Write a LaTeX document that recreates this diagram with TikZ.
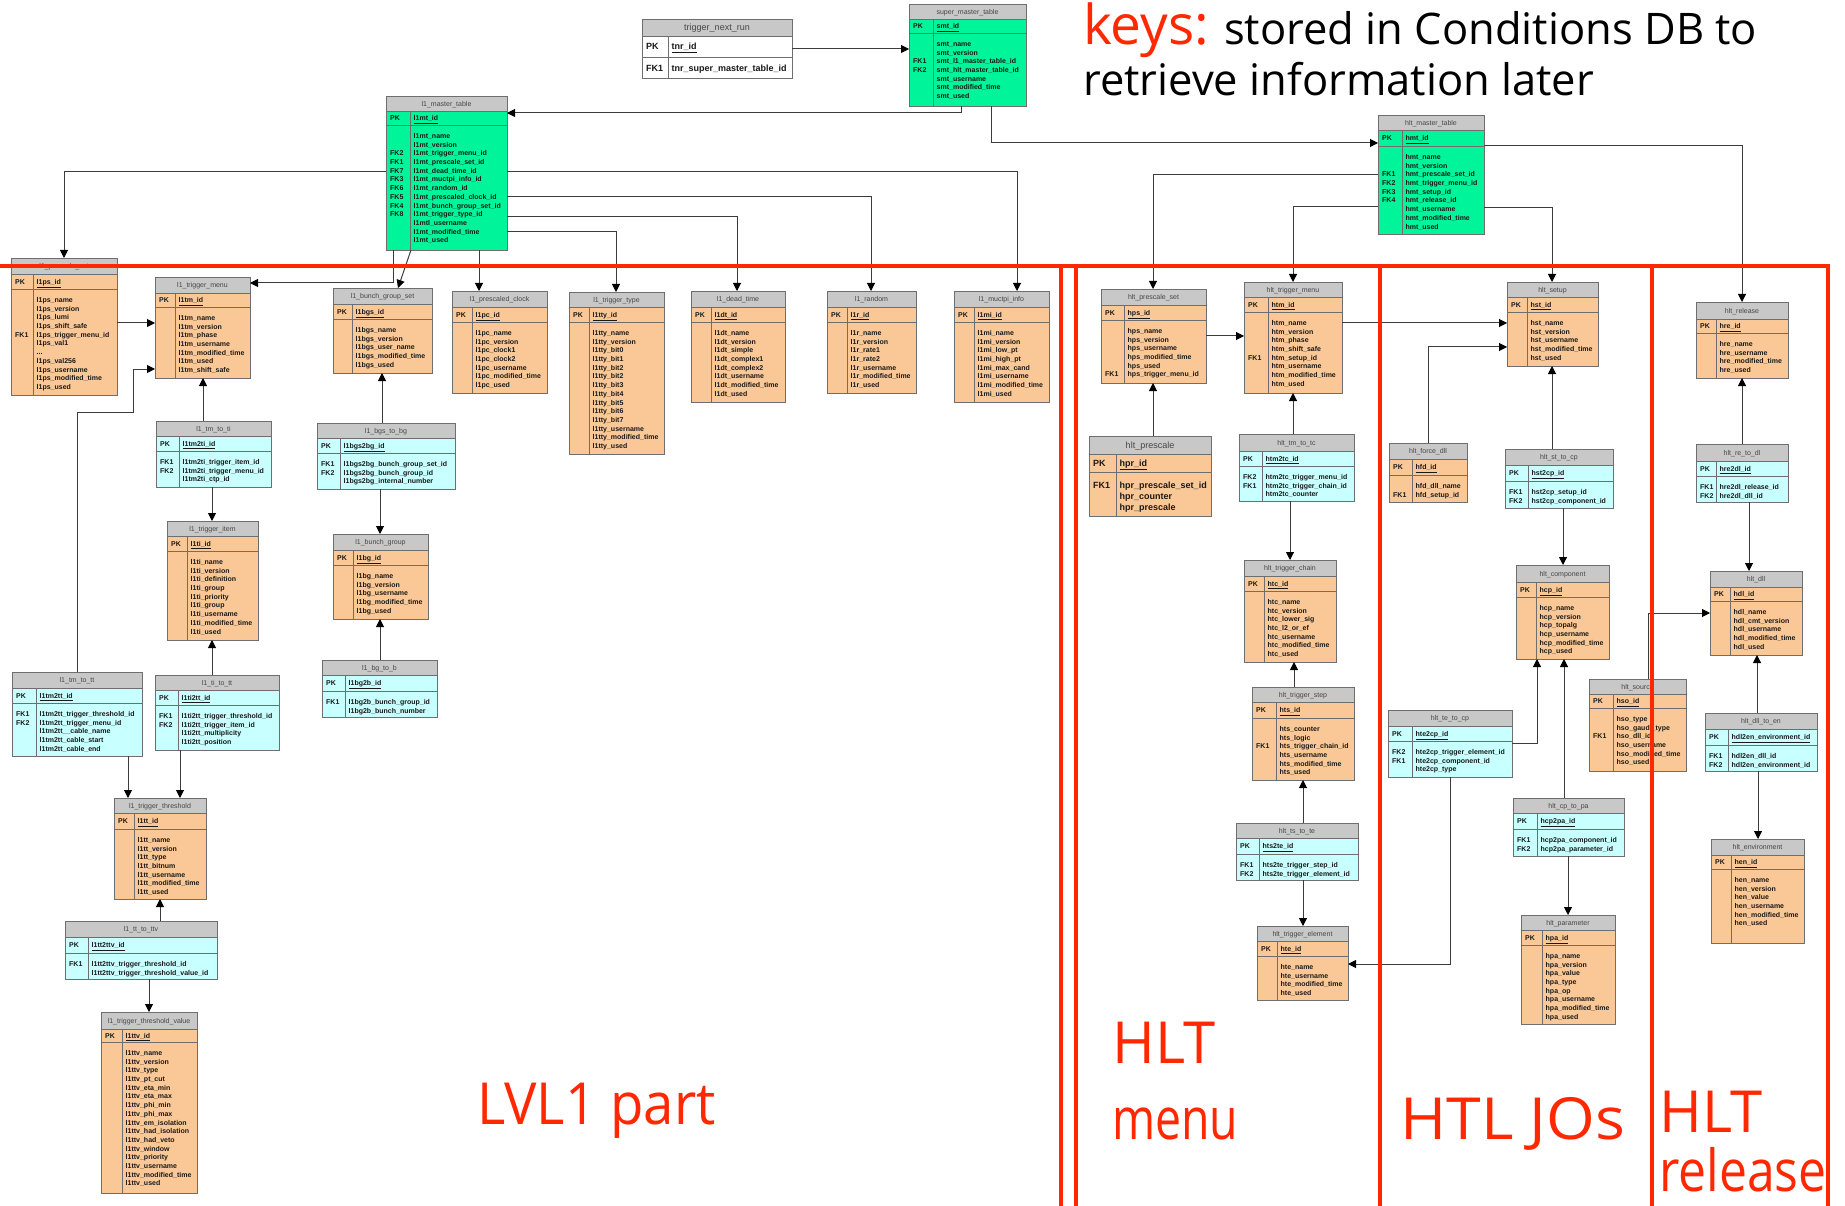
\documentclass[tikz,border=0pt]{standalone}
\usepackage{fontspec}
\setmainfont{Liberation Sans}
\newfontfamily\handfont{Open Sans}
\usetikzlibrary{arrows.meta,fit}

\definecolor{tabgreen}{RGB}{0,245,155}
\definecolor{taborange}{RGB}{250,200,150}
\definecolor{tabcyan}{RGB}{200,255,255}
\definecolor{hdrgray}{RGB}{200,200,200}
\definecolor{bordergray}{RGB}{110,110,110}
\definecolor{inktext}{RGB}{25,25,25}
\definecolor{titletext}{RGB}{70,70,70}
\definecolor{linkgray}{RGB}{60,60,60}
\definecolor{zonered}{RGB}{255,40,0}

% text metrics of the table cells (changed for the two large-print tables)
\def\tabsize{7}\def\tabskip{8.7}\def\titlesize{7}\def\tabgap{7.2}

\tikzset{
  tabframe/.style={draw=bordergray, line width=0.8pt, inner sep=0pt, outer sep=0pt},
  tabline/.style={draw=bordergray, line width=0.7pt},
  tabtext/.style={inner sep=0pt, text=inktext, font=\fontsize{\tabsize}{\tabskip}\selectfont\bfseries},
  tabtitle/.style={inner sep=0pt, text=titletext, font=\fontsize{\titlesize}{\titlesize}\selectfont},
  fk/.style={draw=linkgray, line width=1pt, -{Triangle[length=8pt,width=8pt,color=black]}},
  zone/.style={draw=zonered, line width=4pt},
  bigred/.style={inner sep=0pt, anchor=base west, text=zonered, font=\handfont\fontsize{58}{58}\selectfont},
  note/.style={inner sep=0pt, anchor=base west, text=black, font=\handfont\fontsize{43.5}{43.5}\selectfont},
}

% geometry: left,top,right,bottom,header bottom,key row bottom,column divider
\def\dbparse#1,#2,#3,#4,#5,#6,#7\relax{%
  \def\tL{#1}\def\tT{#2}\def\tR{#3}\def\tB{#4}\def\tH{#5}\def\tP{#6}\def\tD{#7}}

% #1 name, #2 body colour, #3 geometry, #4 title, #5 primary key,
% #6 key column, #7 field column
\newcommand\dbtable[7]{%
  \dbparse#3\relax
  \fill[#2] (\tL,\tT) rectangle (\tR,\tB);
  \fill[hdrgray] (\tL,\tT) rectangle (\tR,\tH);
  \draw[tabline] (\tL,\tH) -- (\tR,\tH) (\tL,\tP) -- (\tR,\tP) (\tD,\tH) -- (\tD,\tB);
  \node[tabframe, fit={(\tL,\tT) (\tR,\tB)}] (#1) {};
  \node[tabtitle, anchor=base] (#1-title) at ({(\tL+\tR)/2},{(\tT+\tH)/2+\titlesize*0.36}) {#4};
  \node[tabtext, anchor=base west] (#1-pklabel) at ({\tL+4},{(\tH+\tP)/2+\tabsize*0.36}) {PK};
  \node[tabtext, anchor=base west] (#1-pk) at ({\tD+3.5},{(\tH+\tP)/2+\tabsize*0.36}) {\underline{#5}};
  \node[tabtext, anchor=north west, align=left] (#1-keys) at ({\tL+4},{\tP+\tabgap}) {\strut#6};
  \node[tabtext, anchor=north west, align=left] (#1-fields) at ({\tD+3.5},{\tP+\tabgap}) {\strut#7};
}

\begin{document}
\catcode`\_=12
\begin{tikzpicture}[x=1pt,y=-1pt]
\fill[white] (0,0) rectangle (1845,1206);
\useasboundingbox (0,0) rectangle (1845,1206);

% ---------------- top level ----------------
\def\tabsize{9}\def\tabskip{11}\def\titlesize{9}\def\tabgap{6.5}
\dbtable{tnr}{white}{642,19,792,78,36,57,668}{trigger_next_run}{tnr_id}
  {FK1}{tnr_super_master_table_id}
\def\tabsize{7}\def\tabskip{8.7}\def\titlesize{7}\def\tabgap{7.2}

\dbtable{smt}{tabgreen}{909,4,1026,106,19,33,933}{super_master_table}{smt_id}
  {\strut\\\strut\\FK1\\FK2}
  {smt_name\\smt_version\\smt_l1_master_table_id\\smt_hlt_master_table_id\\smt_username\\smt_modified_time\\smt_used}

% ---------------- LVL1 ----------------
\dbtable{l1mt}{tabgreen}{386,96,507,250,111,125,410}{l1_master_table}{l1mt_id}
  {\strut\\\strut\\FK2\\FK1\\FK7\\FK3\\FK6\\FK5\\FK4\\FK8}
  {l1mt_name\\l1mt_version\\l1mt_trigger_menu_id\\l1mt_prescale_set_id\\l1mt_dead_time_id\\l1mt_muctpi_info_id\\l1mt_random_id\\l1mt_prescaled_clock_id\\l1mt_bunch_group_set_id\\l1mt_trigger_type_id\\l1mtl_username\\l1mt_modified_time\\l1mt_used}

\dbtable{l1ps}{taborange}{11,258,117,395,274,289,33}{l1_prescale_set}{l1ps_id}
  {\strut\\\strut\\\strut\\\strut\\FK1}
  {l1ps_name\\l1ps_version\\l1ps_lumi\\l1ps_shift_safe\\l1ps_trigger_menu_id\\l1ps_val1\\...\\l1ps_val256\\l1ps_username\\l1ps_modified_time\\l1ps_used}

\dbtable{l1tm}{taborange}{155,277,250,378,293,307,175}{l1_trigger_menu}{l1tm_id}
  {}
  {l1tm_name\\l1tm_version\\l1tm_phase\\l1tm_username\\l1tm_modified_time\\l1tm_used\\l1tm_shift_safe}

\dbtable{l1tm2ti}{tabcyan}{156,421,271,487,436,451,179}{l1_tm_to_ti}{l1tm2ti_id}
  {FK1\\FK2}
  {l1tm2ti_trigger_item_id\\l1tm2ti_trigger_menu_id\\l1tm2ti_ctp_id}

\dbtable{l1ti}{taborange}{167,521,258,640,536,551,187}{l1_trigger_item}{l1ti_id}
  {}
  {l1ti_name\\l1ti_version\\l1ti_definition\\l1ti_group\\l1ti_priority\\l1ti_group\\l1ti_username\\l1ti_modified_time\\l1ti_used}

\dbtable{l1bgs}{taborange}{333,288,432,373,304,319,352}{l1_bunch_group_set}{l1bgs_id}
  {}
  {l1bgs_name\\l1bgs_version\\l1bgs_user_name\\l1bgs_modified_time\\l1bgs_used}

\dbtable{l1bgs2bg}{tabcyan}{317,423,455,489,438,453,340}{l1_bgs_to_bg}{l1bgs2bg_id}
  {FK1\\FK2}
  {l1bgs2bg_bunch_group_set_id\\l1bgs2bg_bunch_group_id\\l1bgs2bg_internal_number}

\dbtable{l1bg}{taborange}{333,534,428,619,550,565,353}{l1_bunch_group}{l1bg_id}
  {}
  {l1bg_name\\l1bg_version\\l1bg_username\\l1bg_modified_time\\l1bg_used}

\dbtable{l1bg2b}{tabcyan}{322,660,437,717,675,691,345}{l1_bg_to_b}{l1bg2b_id}
  {FK1}
  {l1bg2b_bunch_group_id\\l1bg2b_bunch_number}

\dbtable{l1tm2tt}{tabcyan}{12,672,142,756,688,703,36}{l1_tm_to_tt}{l1tm2tt_id}
  {FK1\\FK2}
  {l1tm2tt_trigger_threshold_id\\l1tm2tt_trigger_menu_id\\l1tm2tt__cable_name\\l1tm2tt_cable_start\\l1tm2tt_cable_end}

\dbtable{l1ti2tt}{tabcyan}{155,675,279,750,690,705,178}{l1_ti_to_tt}{l1ti2tt_id}
  {FK1\\FK2}
  {l1ti2tt_trigger_threshold_id\\l1ti2tt_trigger_item_id\\l1ti2tt_multiplicity\\l1ti2tt_position}

\dbtable{l1tt}{taborange}{114,798,206,899,813,829,134}{l1_trigger_threshold}{l1tt_id}
  {}
  {l1tt_name\\l1tt_version\\l1tt_type\\l1tt_bitnum\\l1tt_username\\l1tt_modified_time\\l1tt_used}

\dbtable{l1tt2ttv}{tabcyan}{65,921,217,979,937,953,88}{l1_tt_to_ttv}{l1tt2ttv_id}
  {FK1}
  {l1tt2ttv_trigger_threshold_id\\l1tt2ttv_trigger_threshold_value_id}

\dbtable{l1ttv}{taborange}{101,1012,197,1193,1029,1042,122}{l1_trigger_threshold_value}{l1ttv_id}
  {}
  {l1ttv_name\\l1ttv_version\\l1ttv_type\\l1ttv_pt_cut\\l1ttv_eta_min\\l1ttv_eta_max\\l1ttv_phi_min\\l1ttv_phi_max\\l1ttv_em_isolation\\l1ttv_had_isolation\\l1ttv_had_veto\\l1ttv_window\\l1ttv_priority\\l1ttv_username\\l1ttv_modified_time\\l1ttv_used}

\dbtable{l1pc}{taborange}{452,291,547,393,307,322,472}{l1_prescaled_clock}{l1pc_id}
  {}
  {l1pc_name\\l1pc_version\\l1pc_clock1\\l1pc_clock2\\l1pc_username\\l1pc_modified_time\\l1pc_used}

\dbtable{l1tty}{taborange}{569,292,664,454,307,322,589}{l1_trigger_type}{l1tty_id}
  {}
  {l1tty_name\\l1tty_version\\l1tty_bit0\\l1tty_bit1\\l1tty_bit2\\l1tty_bit2\\l1tty_bit3\\l1tty_bit4\\l1tty_bit5\\l1tty_bit6\\l1tty_bit7\\l1tty_username\\l1tty_modified_time\\l1tty_used}

\dbtable{l1dt}{taborange}{691,291,785,402,307,322,711}{l1_dead_time}{l1dt_id}
  {}
  {l1dt_name\\l1dt_version\\l1dt_simple\\l1dt_complex1\\l1dt_complex2\\l1dt_username\\l1dt_modified_time\\l1dt_used}

\dbtable{l1r}{taborange}{827,291,916,393,307,322,847}{l1_random}{l1r_id}
  {}
  {l1r_name\\l1r_version\\l1r_rate1\\l1r_rate2\\l1r_username\\l1r_modified_time\\l1r_used}

\dbtable{l1mi}{taborange}{954,291,1049,402,307,322,974}{l1_muctpi_info}{l1mi_id}
  {}
  {l1mi_name\\l1mi_version\\l1mi_low_pt\\l1mi_high_pt\\l1mi_max_cand\\l1mi_username\\l1mi_modified_time\\l1mi_used}

% ---------------- HLT ----------------
\dbtable{hmt}{tabgreen}{1378,115,1484,234,130,146,1402}{hlt_master_table}{hmt_id}
  {\strut\\\strut\\FK1\\FK2\\FK3\\FK4}
  {hmt_name\\hmt_version\\hmt_prescale_set_id\\hmt_trigger_menu_id\\hmt_setup_id\\hmt_release_id\\hmt_username\\hmt_modified_time\\hmt_used}

\dbtable{hps}{taborange}{1101,289,1206,383,305,320,1124}{hlt_prescale_set}{hps_id}
  {\strut\\\strut\\\strut\\\strut\\\strut\\FK1}
  {hps_name\\hps_version\\hps_username\\hps_modified_time\\hps_used\\hps_trigger_menu_id}

\dbtable{htm}{taborange}{1244,282,1342,393,297,312,1268}{hlt_trigger_menu}{htm_id}
  {\strut\\\strut\\\strut\\\strut\\FK1}
  {htm_name\\htm_version\\htm_phase\\htm_shift_safe\\htm_setup_id\\htm_username\\htm_modified_time\\htm_used}

\def\tabsize{9}\def\tabskip{11}\def\titlesize{9}\def\tabgap{8.6}
\dbtable{hpr}{taborange}{1089,436,1211,516,454,472,1116}{hlt_prescale}{hpr_id}
  {FK1}
  {hpr_prescale_set_id\\hpr_counter\\hpr_prescale}
\def\tabsize{7}\def\tabskip{8.7}\def\titlesize{7}\def\tabgap{7.2}

\dbtable{htm2tc}{tabcyan}{1239,434,1354,501,451,466,1262}{hlt_tm_to_tc}{htm2tc_id}
  {FK2\\FK1}
  {htm2tc_trigger_menu_id\\htm2tc_trigger_chain_id\\htm2tc_counter}

\dbtable{htc}{taborange}{1244,560,1336,662,576,591,1264}{hlt_trigger_chain}{htc_id}
  {}
  {htc_name\\htc_version\\htc_lower_sig\\htc_l2_or_ef\\htc_username\\htc_modified_time\\htc_used}

\dbtable{hts}{taborange}{1252,687,1354,780,702,718,1276}{hlt_trigger_step}{hts_id}
  {\strut\\\strut\\FK1}
  {hts_counter\\hts_logic\\hts_trigger_chain_id\\hts_username\\hts_modified_time\\hts_used}

\dbtable{hts2te}{tabcyan}{1236,823,1358,880,838,854,1259}{hlt_ts_to_te}{hts2te_id}
  {FK1\\FK2}
  {hts2te_trigger_step_id\\hts2te_trigger_element_id}

\dbtable{hte}{taborange}{1257,926,1348,1000,941,956,1277}{hlt_trigger_element}{hte_id}
  {}
  {hte_name\\hte_username\\hte_modified_time\\hte_used}

\dbtable{hst}{taborange}{1507,282,1598,366,297,312,1527}{hlt_setup}{hst_id}
  {}
  {hst_name\\hst_version\\hst_username\\hst_modified_time\\hst_used}

\dbtable{hfd}{taborange}{1389,443,1467,502,459,475,1412}{hlt_force_dll}{hfd_id}
  {\strut\\FK1}
  {hfd_dll_name\\hfd_setup_id}

\dbtable{hst2cp}{tabcyan}{1505,449,1613,508,465,481,1528}{hlt_st_to_cp}{hst2cp_id}
  {FK1\\FK2}
  {hst2cp_setup_id\\hst2cp_component_id}

\dbtable{hcp}{taborange}{1516,565,1609,659,582,597,1536}{hlt_component}{hcp_id}
  {}
  {hcp_name\\hcp_version\\hcp_topalg\\hcp_username\\hcp_modified_time\\hcp_used}

\dbtable{hte2cp}{tabcyan}{1388,710,1512,777,726,741,1412}{hlt_te_to_cp}{hte2cp_id}
  {FK2\\FK1}
  {hte2cp_trigger_element_id\\hte2cp_component_id\\hte2cp_type}

\dbtable{hcp2pa}{tabcyan}{1513,798,1624,856,813,829,1537}{hlt_cp_to_pa}{hcp2pa_id}
  {FK1\\FK2}
  {hcp2pa_component_id\\hcp2pa_parameter_id}

\dbtable{hpa}{taborange}{1521,915,1615,1024,930,945,1542}{hlt_parameter}{hpa_id}
  {}
  {hpa_name\\hpa_version\\hpa_value\\hpa_type\\hpa_op\\hpa_username\\hpa_modified_time\\hpa_used}

\dbtable{hre}{taborange}{1696,302,1788,378,319,333,1716}{hlt_release}{hre_id}
  {}
  {hre_name\\hre_username\\hre_modified_time\\hre_used}

\dbtable{hre2dl}{tabcyan}{1696,444,1788,502,461,476,1716}{hlt_re_to_dl}{hre2dl_id}
  {FK1\\FK2}
  {hre2dl_release_id\\hre2dl_dll_id}

\dbtable{hdl}{taborange}{1710,571,1802,655,587,601,1730}{hlt_dll}{hdl_id}
  {}
  {hdl_name\\hdl_cmt_version\\hdl_username\\hdl_modified_time\\hdl_used}

\dbtable{hso}{taborange}{1589,679,1686,771,694,708,1613}{hlt_source}{hso_id}
  {\strut\\\strut\\FK1}
  {hso_type\\hso_gaudi_type\\hso_dll_id\\hso_username\\hso_modified_time\\hso_used}

\dbtable{hdl2en}{tabcyan}{1705,713,1817,771,729,745,1728}{hlt_dll_to_en}{hdl2en_environment_id}
  {FK1\\FK2}
  {hdl2en_dll_id\\hdl2en_environment_id}

\dbtable{hen}{taborange}{1711,839,1804,943,855,869,1731}{hlt_environment}{hen_id}
  {}
  {hen_name\\hen_version\\hen_value\\hen_username\\hen_modified_time\\hen_used}

% ---------------- foreign-key links ----------------
\draw[fk] (tnr.east |- 0,49) -- (smt.west |- 0,49);
\draw[fk] (smt.south -| 961,0) |- (l1mt.east |- 0,113);
\draw[fk] (smt.south -| 991,0) |- (hmt.west |- 0,143);

\draw[fk] (l1mt.west |- 0,172) -| (l1ps.north);
\draw[fk] (l1mt.south -| 393,0) |- (l1tm.east |- 0,283);
\draw[fk] (l1mt.south -| 411,0) -- (l1bgs.north -| 398,0);
\draw[fk] (l1mt.south -| 479,0) -- (l1pc.north -| 479,0);
\draw[fk] (l1mt.east |- 0,232) -| (l1tty.north -| 616,0);
\draw[fk] (l1mt.east |- 0,217) -| (l1dt.north -| 737,0);
\draw[fk] (l1mt.east |- 0,197) -| (l1r.north -| 871,0);
\draw[fk] (l1mt.east |- 0,172) -| (l1mi.north -| 1017,0);
\draw[fk] (l1ps.east |- 0,323) -- (l1tm.west |- 0,323);
\draw[fk] (l1tm2tt.north) |- (133,412) |- (l1tm.west |- 0,369);
\draw[fk] (l1tm2ti.north -| 203,0) -- (l1tm.south -| 203,0);
\draw[fk] (l1tm2ti.south -| 212,0) -- (l1ti.north -| 212,0);
\draw[fk] (l1ti2tt.north -| 212,0) -- (l1ti.south -| 212,0);
\draw[fk] (l1bgs2bg.north -| 382,0) -- (l1bgs.south -| 382,0);
\draw[fk] (l1bgs2bg.south -| 380,0) -- (l1bg.north -| 380,0);
\draw[fk] (l1bg2b.north -| 380,0) -- (l1bg.south -| 380,0);
\draw[fk] (l1tm2tt.south -| 128,0) -- (l1tt.north -| 128,0);
\draw[fk] (l1ti2tt.south -| 180,0) -- (l1tt.north -| 180,0);
\draw[fk] (l1tt2ttv.north -| 160,0) -- (l1tt.south -| 160,0);
\draw[fk] (l1tt2ttv.south -| 149,0) -- (l1ttv.north -| 149,0);

\draw[fk] (hmt.west |- 0,175) -| (hps.north -| 1153,0);
\draw[fk] (hmt.west |- 0,207) -| (htm.north -| 1293,0);
\draw[fk] (hmt.east |- 0,146) -| (hre.north -| 1742,0);
\draw[fk] (hmt.east |- 0,208) -| (hst.north -| 1552,0);
\draw[fk] (hps.east |- 0,336) -- (htm.west |- 0,336);
\draw[fk] (hpr.north -| 1153,0) -- (hps.south -| 1153,0);
\draw[fk] (htm.east |- 0,323) -- (hst.west |- 0,323);
\draw[fk] (htm2tc.north -| 1293,0) -- (htm.south -| 1293,0);
\draw[fk] (htm2tc.south -| 1290,0) -- (htc.north -| 1290,0);
\draw[fk] (hts.north -| 1294,0) -- (htc.south -| 1294,0);
\draw[fk] (hts2te.north -| 1303,0) -- (hts.south -| 1303,0);
\draw[fk] (hts2te.south -| 1303,0) -- (hte.north -| 1303,0);
\draw[fk] (hfd.north -| 1428,0) |- (hst.west |- 0,347);
\draw[fk] (hst2cp.north -| 1552,0) -- (hst.south -| 1552,0);
\draw[fk] (hst2cp.south -| 1563,0) -- (hcp.north -| 1563,0);
\draw[fk] (hte2cp.east |- 0,743) -| (hcp.south -| 1537,0);
\draw[fk] (hcp2pa.north -| 1564,0) -- (hcp.south -| 1564,0);
\draw[fk] (hcp2pa.south -| 1568,0) -- (hpa.north -| 1568,0);
\draw[fk] (hte2cp.south -| 1450,0) |- (hte.east |- 0,964);
\draw[fk] (hre2dl.north -| 1742,0) -- (hre.south -| 1742,0);
\draw[fk] (hre2dl.south -| 1749,0) -- (hdl.north -| 1749,0);
\draw[fk] (hso.north -| 1648,0) |- (hdl.west |- 0,613);
\draw[fk] (hdl2en.north -| 1757,0) -- (hdl.south -| 1757,0);
\draw[fk] (hdl2en.south -| 1758,0) -- (hen.north -| 1758,0);

% ---------------- zone frames ----------------
\draw[zone] (0,266) -- (1830,266);
\foreach \zx in {1061,1076,1380,1652,1828} \draw[zone] (\zx,266) -- (\zx,1206);

% ---------------- labels ----------------
\node[bigred, font=\handfont\fontsize{55}{55}\selectfont] (keyslbl) at (1083,45) {keys:};
\node[note] (note1) at (1224,45) {stored in Conditions DB to};
\node[note] (note2) at (1083,96) {retrieve information later};
\node[bigred] (lvl1) at (477,1124) {\scalebox{0.94}[1]{LVL1 part}};
\node[bigred] (menu1) at (1112,1063) {HLT};
\node[bigred] (menu2) at (1112,1139) {\scalebox{0.8}[1]{menu}};
\node[bigred] (jos) at (1400,1139) {\scalebox{1.08}[1]{HTL JOs}};
\node[bigred] (rel1) at (1659,1132) {HLT};
\node[bigred] (rel2) at (1659,1191) {\scalebox{0.86}[1]{release}};
\end{tikzpicture}
\end{document}
